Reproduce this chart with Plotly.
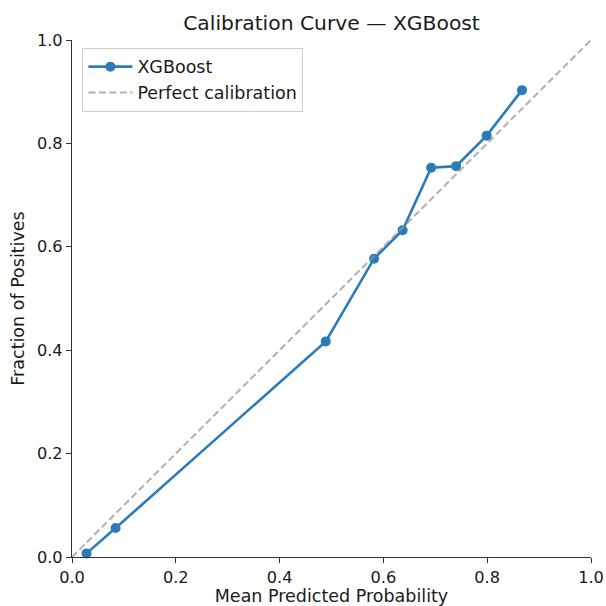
import plotly.graph_objects as go

mean_pred = [0.028, 0.084, 0.489, 0.582, 0.637, 0.692, 0.740, 0.799, 0.867]
frac_pos = [0.007, 0.056, 0.417, 0.577, 0.632, 0.753, 0.756, 0.815, 0.903]
diag = [0.0, 1.0]
tick_vals = [0.0, 0.2, 0.4, 0.6, 0.8, 1.0]
tick_text = ["0.0", "0.2", "0.4", "0.6", "0.8", "1.0"]

FONT = "DejaVu Sans"
BLUE = "#2b7bba"
TXT = "#1a1a1a"

fig = go.Figure()
fig.add_trace(go.Scatter(
    x=mean_pred, y=frac_pos, mode="lines+markers", name="XGBoost",
    line=dict(color=BLUE, width=2.6),
    marker=dict(color=BLUE, size=10),
    cliponaxis=False,
))
fig.add_trace(go.Scatter(
    x=diag, y=diag, mode="lines", name="Perfect calibration",
    line=dict(color="rgba(150,150,150,0.75)", width=2, dash="7px,3.5px"),
))

axis_common = dict(
    range=[0, 1], tickvals=tick_vals, ticktext=tick_text, automargin=False,
    showgrid=False, zeroline=False, showline=True, linecolor="#333333",
    linewidth=1.2, ticks="outside", ticklen=5, tickwidth=1.2, tickcolor="#333333",
    tickfont=dict(family=FONT, size=16.2, color=TXT),
)

fig.update_layout(
    template="none",
    width=606, height=606,
    margin=dict(l=72, r=15, t=40, b=49),
    paper_bgcolor="white", plot_bgcolor="white",
    title=dict(text="Calibration Curve — XGBoost", x=0.5, xref="paper", xanchor="center",
               y=1 - 23 / 606, yref="container", yanchor="middle",
               font=dict(family=FONT, size=20.3, color=TXT)),
    xaxis=dict(**axis_common,
               title=dict(text="Mean Predicted Probability", standoff=4,
                          font=dict(family=FONT, size=17.5, color=TXT))),
    yaxis=dict(**axis_common,
               title=dict(text="Fraction of Positives", standoff=7,
                          font=dict(family=FONT, size=17.5, color=TXT))),
    legend=dict(x=0.02, y=0.985, xanchor="left", yanchor="top",
                bgcolor="rgba(255,255,255,0.8)", bordercolor="#d0d0d0", borderwidth=1,
                itemwidth=44,
                font=dict(family=FONT, size=17.5, color=TXT)),
    showlegend=True,
)

fig.write_html("out.html")
